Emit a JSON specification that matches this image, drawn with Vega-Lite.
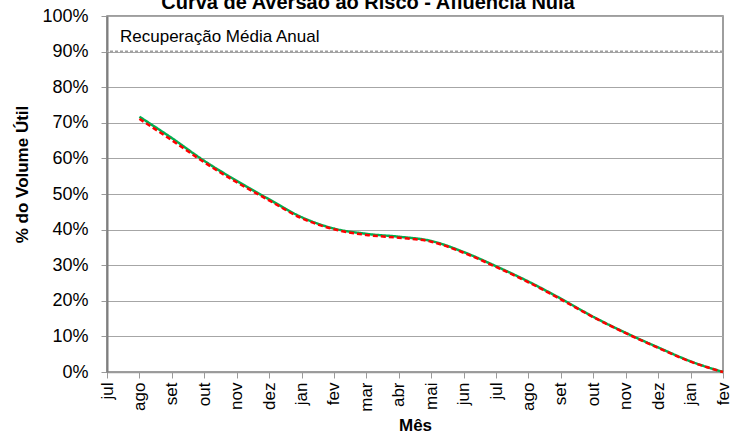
{
  "$schema": "https://vega.github.io/schema/vega-lite/v6.json",
  "width": 616,
  "height": 356,
  "autosize": {"type": "none"},
  "padding": {"left": 107, "top": 16, "right": 25, "bottom": 65},
  "background": "white",
  "config": {
    "font": "Liberation Sans",
    "view": {"stroke": "#7f7f7f", "strokeWidth": 1.5},
    "axis": {"labelFont": "Liberation Sans", "titleFont": "Liberation Sans", "labelColor": "#000", "titleColor": "#000"}
  },
  "title": {
    "text": "Curva de Aversão ao Risco - Afluência Nula",
    "fontSize": 20,
    "fontWeight": "bold",
    "font": "Liberation Sans",
    "color": "#000",
    "anchor": "middle",
    "baseline": "alphabetic",
    "offset": -22,
    "dx": -47
  },
  "datasets": {
    "curva": [
      {"m": "jul_1", "serie": "Verde", "v": null},
      {"m": "ago_1", "serie": "Verde", "v": 0.717},
      {"m": "set_1", "serie": "Verde", "v": 0.657},
      {"m": "out_1", "serie": "Verde", "v": 0.593},
      {"m": "nov_1", "serie": "Verde", "v": 0.537},
      {"m": "dez_1", "serie": "Verde", "v": 0.485},
      {"m": "jan_1", "serie": "Verde", "v": 0.435},
      {"m": "fev_1", "serie": "Verde", "v": 0.403},
      {"m": "mar_1", "serie": "Verde", "v": 0.388},
      {"m": "abr_1", "serie": "Verde", "v": 0.380},
      {"m": "mai_1", "serie": "Verde", "v": 0.368},
      {"m": "jun_1", "serie": "Verde", "v": 0.337},
      {"m": "jul_2", "serie": "Verde", "v": 0.297},
      {"m": "ago_2", "serie": "Verde", "v": 0.254},
      {"m": "set_2", "serie": "Verde", "v": 0.206},
      {"m": "out_2", "serie": "Verde", "v": 0.155},
      {"m": "nov_2", "serie": "Verde", "v": 0.110},
      {"m": "dez_2", "serie": "Verde", "v": 0.069},
      {"m": "jan_2", "serie": "Verde", "v": 0.030},
      {"m": "fev_2", "serie": "Verde", "v": 0.0},
      {"m": "jul_1", "serie": "Vermelho", "v": null},
      {"m": "ago_1", "serie": "Vermelho", "v": 0.711},
      {"m": "set_1", "serie": "Vermelho", "v": 0.651},
      {"m": "out_1", "serie": "Vermelho", "v": 0.589},
      {"m": "nov_1", "serie": "Vermelho", "v": 0.533},
      {"m": "dez_1", "serie": "Vermelho", "v": 0.482},
      {"m": "jan_1", "serie": "Vermelho", "v": 0.432},
      {"m": "fev_1", "serie": "Vermelho", "v": 0.401},
      {"m": "mar_1", "serie": "Vermelho", "v": 0.385},
      {"m": "abr_1", "serie": "Vermelho", "v": 0.377},
      {"m": "mai_1", "serie": "Vermelho", "v": 0.366},
      {"m": "jun_1", "serie": "Vermelho", "v": 0.335},
      {"m": "jul_2", "serie": "Vermelho", "v": 0.295},
      {"m": "ago_2", "serie": "Vermelho", "v": 0.252},
      {"m": "set_2", "serie": "Vermelho", "v": 0.204},
      {"m": "out_2", "serie": "Vermelho", "v": 0.154},
      {"m": "nov_2", "serie": "Vermelho", "v": 0.109},
      {"m": "dez_2", "serie": "Vermelho", "v": 0.068},
      {"m": "jan_2", "serie": "Vermelho", "v": 0.029},
      {"m": "fev_2", "serie": "Vermelho", "v": 0.0}
    ],
    "ref": [{"m": "jul_1", "v": 0.9, "label": "Recuperação Média Anual"}]
  },
  "encoding": {
    "y": {
      "field": "v",
      "type": "quantitative",
      "scale": {"domain": [0, 1], "nice": false},
      "axis": {
        "title": "% do Volume Útil",
        "titleFontSize": 17,
        "titleFontWeight": "bold",
        "titleX": -85,
        "titleY": 158,
        "titleAlign": "center",
        "titleBaseline": "middle",
        "format": ".0%",
        "values": [0, 0.1, 0.2, 0.3, 0.4, 0.5, 0.6, 0.7, 0.8, 0.9, 1],
        "labelFontSize": 18,
        "labelPadding": 13,
        "labelOverlap": false,
        "tickSize": 6,
        "tickColor": "#9a9a9a",
        "domainColor": "#7f7f7f",
        "domainWidth": 2,
        "grid": true,
        "gridColor": "#a6a6a6",
        "gridWidth": 1.2
      }
    }
  },
  "layer": [
    {
      "data": {"name": "curva"},
      "mark": {"type": "line", "interpolate": "monotone", "strokeWidth": 2.5},
      "encoding": {
        "x": {
          "field": "m",
          "type": "ordinal",
          "sort": null,
          "scale": {
            "type": "point",
            "padding": 0,
            "domain": ["jul_1", "ago_1", "set_1", "out_1", "nov_1", "dez_1", "jan_1", "fev_1", "mar_1", "abr_1", "mai_1", "jun_1", "jul_2", "ago_2", "set_2", "out_2", "nov_2", "dez_2", "jan_2", "fev_2"]
          },
          "axis": {
            "title": "Mês",
            "titleFontSize": 17,
            "titleFontWeight": "bold",
            "titleY": 53,
            "titleBaseline": "middle",
            "labelExpr": "split(datum.value, '_')[0]",
            "labelAngle": -90,
            "labelFontSize": 17,
            "labelPadding": 4,
            "labelOverlap": false,
            "tickSize": 6,
            "tickColor": "#9a9a9a",
            "domainColor": "#9a9a9a",
            "domainWidth": 1.5,
            "grid": false
          }
        },
        "color": {
          "field": "serie",
          "type": "nominal",
          "scale": {"domain": ["Verde", "Vermelho"], "range": ["#00b050", "#ff0000"]},
          "legend": null
        },
        "strokeDash": {
          "field": "serie",
          "type": "nominal",
          "scale": {"domain": ["Verde", "Vermelho"], "range": [[1, 0], [5, 3]]},
          "legend": null
        },
        "order": {"field": "serie"}
      }
    },
    {
      "data": {"name": "ref"},
      "mark": {"type": "rule", "color": "#a0a0a0", "strokeWidth": 2, "strokeDash": [3, 2]},
      "encoding": {}
    },
    {
      "data": {"name": "ref"},
      "mark": {"type": "text", "align": "left", "baseline": "bottom", "fontSize": 17, "font": "Liberation Sans", "color": "#000", "dx": 13, "dy": -6},
      "encoding": {
        "x": {"field": "m", "type": "ordinal"},
        "text": {"field": "label"}
      }
    }
  ]
}
